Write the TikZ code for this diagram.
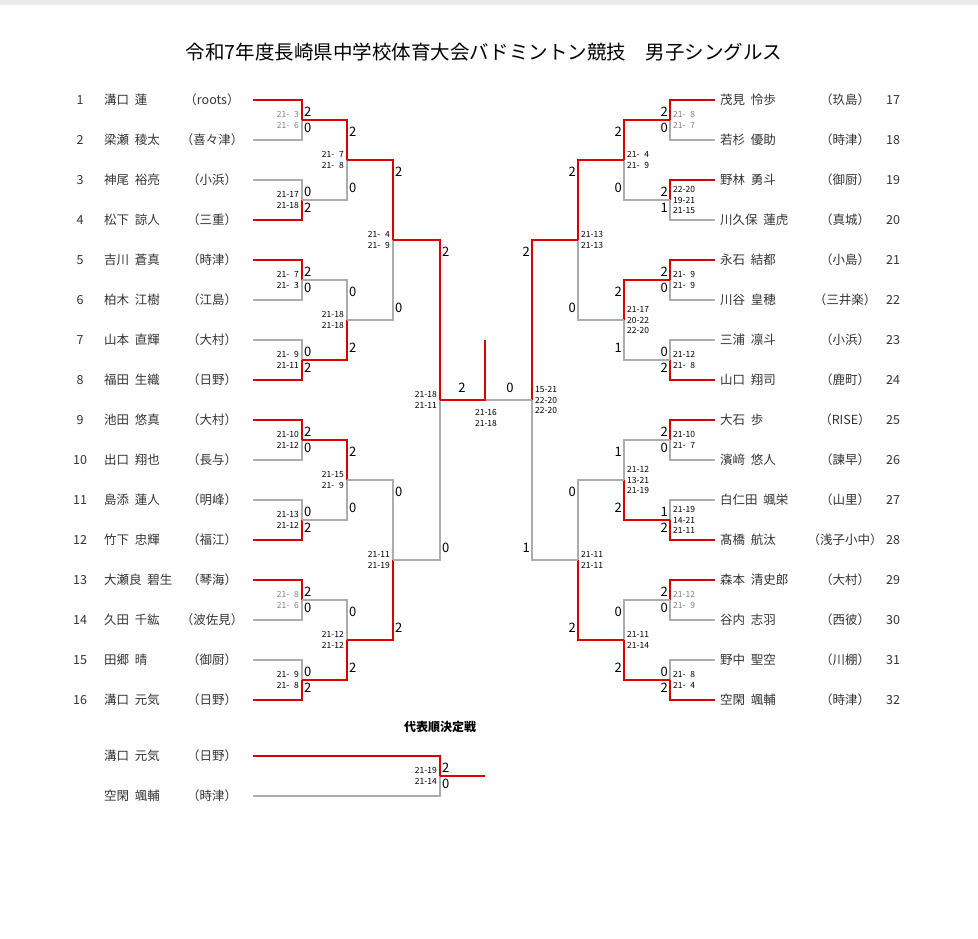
\documentclass[tikz,border=0pt]{standalone}
\usepackage{fontspec}
\setmainfont{Noto Sans CJK JP}
\usetikzlibrary{positioning}

\newcommand\dg{\phantom{0}}
\tikzset{
  win/.style  = {draw=red!85!black, line width=2pt},
  lose/.style = {draw=gray!65, line width=2pt},
  score/.style = {font=\fontsize{13}{13}\selectfont, inner sep=1pt},
  games/.style = {font=\fontsize{8.5}{10.5}\selectfont, align=left, inner sep=1pt},
  player/.style = {font=\fontsize{12.5}{13}\selectfont, inner sep=1pt, text=black!80}
}

% left half bout: in-x, vertical-x, upper y, lower y, styles, scores, games
\newcommand\lbout[9]{%
  \coordinate (mid) at ({#2},{(#3+#4)/2});
  \draw[#6] ({#1},{#4}) -- ({#2},{#4}) -- (mid);
  \draw[#5] ({#1},{#3}) -- ({#2},{#3}) -- (mid);
  \node[score, anchor=west] at ({#2+1},{#3+12}) {#7};
  \node[score, anchor=west] at ({#2+1},{#4-12}) {#8};
  \node[games, anchor=east] at ({#2-2},{(#3+#4)/2}) {#9};
}
% right half bout
\newcommand\rbout[9]{%
  \coordinate (mid) at ({#2},{(#3+#4)/2});
  \draw[#6] ({#1},{#4}) -- ({#2},{#4}) -- (mid);
  \draw[#5] ({#1},{#3}) -- ({#2},{#3}) -- (mid);
  \node[score, anchor=east] at ({#2-1},{#3+12}) {#7};
  \node[score, anchor=east] at ({#2-1},{#4-12}) {#8};
  \node[games, anchor=west] at ({#2+2},{(#3+#4)/2}) {#9};
}

\begin{document}
\begin{tikzpicture}[x=1pt, y=-1pt]
  \useasboundingbox (0,0) rectangle (978,939);
  \fill[gray!15] (0,0) rectangle (978,5);

  % title
  \node (title) at (484,52) {\fontsize{19.5}{22}\selectfont 令和7年度長崎県中学校体育大会バドミントン競技　男子シングルス};

  % players, left
  \foreach \n/\nm/\sc in {1/溝口\ \ 蓮/（roots）, 2/梁瀬\ \ 稜太/（喜々津）, 3/神尾\ \ 裕亮/（小浜）,
      4/松下\ \ 諒人/（三重）, 5/吉川\ \ 蒼真/（時津）, 6/柏木\ \ 江樹/（江島）, 7/山本\ \ 直輝/（大村）,
      8/福田\ \ 生織/（日野）, 9/池田\ \ 悠真/（大村）, 10/出口\ \ 翔也/（長与）, 11/島添\ \ 蓮人/（明峰）,
      12/竹下\ \ 忠輝/（福江）, 13/大瀬良\ \ 碧生/（琴海）, 14/久田\ \ 千紘/（波佐見）, 15/田郷\ \ 晴/（御厨）,
      16/溝口\ \ 元気/（日野）}{
    \node[player] (ln\n) at (80,{100+40*(\n-1)}) {\n};
    \node[player, anchor=west] (lp\n) at (103,{100+40*(\n-1)}) {\nm};
    \node[player] (ls\n) at (212,{100+40*(\n-1)}) {\sc};
  }
  % players, right
  \foreach \n/\nm/\sc in {17/茂見\ \ 怜歩/（玖島）, 18/若杉\ \ 優助/（時津）, 19/野林\ \ 勇斗/（御厨）,
      20/川久保\ \ 蓮虎/（真城）, 21/永石\ \ 結都/（小島）, 22/川谷\ \ 皇穂/（三井楽）, 23/三浦\ \ 凛斗/（小浜）,
      24/山口\ \ 翔司/（鹿町）, 25/大石\ \ 歩/（RISE）, 26/濱﨑\ \ 悠人/（諫早）, 27/白仁田\ \ 颯栄/（山里）,
      28/髙橋\ \ 航汰/（浅子小中）, 29/森本\ \ 清史郎/（大村）, 30/谷内\ \ 志羽/（西彼）, 31/野中\ \ 聖空/（川棚）,
      32/空閑\ \ 颯輔/（時津）}{
    \node[player, anchor=west] (rp\n) at (719,{100+40*(\n-17)}) {\nm};
    \node[player] (rs\n) at (845,{100+40*(\n-17)}) {\sc};
    \node[player] (rn\n) at (893,{100+40*(\n-17)}) {\n};
  }

  % left, first round
  \lbout{253}{302}{100}{140}{win}{lose}{2}{0}{\textcolor{gray}{21-\dg3}\\\textcolor{gray}{21-\dg6}}
  \lbout{253}{302}{180}{220}{lose}{win}{0}{2}{21-17\\21-18}
  \lbout{253}{302}{260}{300}{win}{lose}{2}{0}{21-\dg7\\21-\dg3}
  \lbout{253}{302}{340}{380}{lose}{win}{0}{2}{21-\dg9\\21-11}
  \lbout{253}{302}{420}{460}{win}{lose}{2}{0}{21-10\\21-12}
  \lbout{253}{302}{500}{540}{lose}{win}{0}{2}{21-13\\21-12}
  \lbout{253}{302}{580}{620}{win}{lose}{2}{0}{\textcolor{gray}{21-\dg8}\\\textcolor{gray}{21-\dg6}}
  \lbout{253}{302}{660}{700}{lose}{win}{0}{2}{21-\dg9\\21-\dg8}
  % left, second round
  \lbout{302}{347}{120}{200}{win}{lose}{2}{0}{21-\dg7\\21-\dg8}
  \lbout{302}{347}{280}{360}{lose}{win}{0}{2}{21-18\\21-18}
  \lbout{302}{347}{440}{520}{win}{lose}{2}{0}{21-15\\21-\dg9}
  \lbout{302}{347}{600}{680}{lose}{win}{0}{2}{21-12\\21-12}
  % left, third and fourth round
  \lbout{347}{393}{160}{320}{win}{lose}{2}{0}{21-\dg4\\21-\dg9}
  \lbout{347}{393}{480}{640}{lose}{win}{0}{2}{21-11\\21-19}
  \lbout{393}{440}{240}{560}{win}{lose}{2}{0}{21-18\\21-11}

  % right, first round
  \rbout{715}{670}{100}{140}{win}{lose}{2}{0}{\textcolor{gray}{21-\dg8}\\\textcolor{gray}{21-\dg7}}
  \rbout{715}{670}{180}{220}{win}{lose}{2}{1}{22-20\\19-21\\21-15}
  \rbout{715}{670}{260}{300}{win}{lose}{2}{0}{21-\dg9\\21-\dg9}
  \rbout{715}{670}{340}{380}{lose}{win}{0}{2}{21-12\\21-\dg8}
  \rbout{715}{670}{420}{460}{win}{lose}{2}{0}{21-10\\21-\dg7}
  \rbout{715}{670}{500}{540}{lose}{win}{1}{2}{21-19\\14-21\\21-11}
  \rbout{715}{670}{580}{620}{win}{lose}{2}{0}{\textcolor{gray}{21-12}\\\textcolor{gray}{21-\dg9}}
  \rbout{715}{670}{660}{700}{lose}{win}{0}{2}{21-\dg8\\21-\dg4}
  % right, second round
  \rbout{670}{624}{120}{200}{win}{lose}{2}{0}{21-\dg4\\21-\dg9}
  \rbout{670}{624}{280}{360}{win}{lose}{2}{1}{21-17\\20-22\\22-20}
  \rbout{670}{624}{440}{520}{lose}{win}{1}{2}{21-12\\13-21\\21-19}
  \rbout{670}{624}{600}{680}{lose}{win}{0}{2}{21-11\\21-14}
  % right, third and fourth round
  \rbout{624}{578}{160}{320}{win}{lose}{2}{0}{21-13\\21-13}
  \rbout{624}{578}{480}{640}{lose}{win}{0}{2}{21-11\\21-11}
  \rbout{578}{532}{240}{560}{win}{lose}{2}{1}{15-21\\22-20\\22-20}

  % final
  \coordinate (champ) at (485,340);
  \draw[lose] (532,400) -- (485,400);
  \draw[win] (440,400) -- (485,400) -- (champ);
  \node[score] (fl) at (462,388) {2};
  \node[score] (fr) at (510,388) {0};
  \node[games, align=center] (fg) at (486,418) {21-16\\21-18};

  % play-off for ranking
  \node (rank) at (440,727) {\fontsize{12}{13}\selectfont\bfseries 代表順決定戦};
  \node[player, anchor=west] (pa) at (103,756) {溝口\ \ 元気};
  \node[player] (sa) at (212,756) {（日野）};
  \node[player, anchor=west] (pb) at (103,796) {空閑\ \ 颯輔};
  \node[player] (sb) at (212,796) {（時津）};
  \lbout{253}{440}{756}{796}{win}{lose}{2}{0}{21-19\\21-14}
  \draw[win] (mid) -- (485,776);
\end{tikzpicture}
\end{document}
